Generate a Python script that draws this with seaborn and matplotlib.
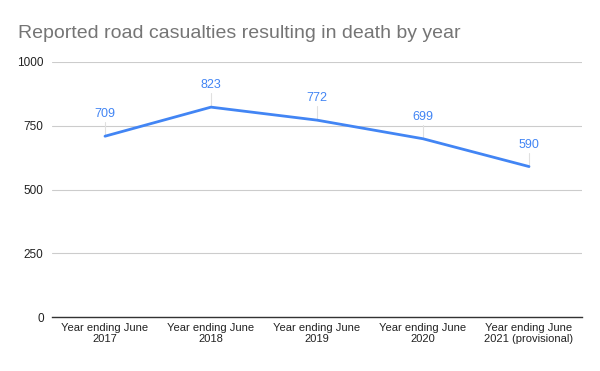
import pandas as pd
import seaborn as sns
import matplotlib.pyplot as plt

years = ["Year ending June\n2017", "Year ending June\n2018", "Year ending June\n2019",
         "Year ending June\n2020", "Year ending June\n2021 (provisional)"]
deaths = [709, 823, 772, 699, 590]
yticks = [0, 250, 500, 750, 1000]

df = pd.DataFrame({"year": years, "deaths": deaths})

sns.set_theme(style="white")
plt.rcParams["font.family"] = ["Liberation Sans", "DejaVu Sans"]

fig = plt.figure(figsize=(6, 3.71), dpi=100)
ax = fig.add_axes([52 / 600, 1 - 317 / 371, 530 / 600, 255 / 371])

sns.lineplot(data=df, x="year", y="deaths", sort=False, color="#4285F4", linewidth=2, ax=ax)

ax.set_xlim(-0.5, len(years) - 0.5)
ax.set_ylim(0, 1000)
ax.set_yticks(yticks)
ax.set_yticklabels([str(v) for v in yticks])
ax.grid(axis="y", color="#cccccc", linewidth=0.8)
ax.set_axisbelow(True)
for s in ["top", "right", "left"]:
    ax.spines[s].set_visible(False)
ax.spines["bottom"].set_color("#333333")
ax.spines["bottom"].set_linewidth(1)
ax.tick_params(axis="x", length=0, labelsize=8, colors="#222222", pad=4)
ax.tick_params(axis="y", length=0, labelsize=8.5, colors="#222222", pad=6)
ax.set_xlabel("")
ax.set_ylabel("")

# data labels with leader lines
for i, v in enumerate(deaths):
    ax.plot([i, i], [v, v + 55], color="#e0e0e0", linewidth=0.8, zorder=1)
    ax.text(i, v + 62, str(v), ha="center", va="bottom", color="#4285F4", fontsize=9)

fig.text(18 / 600, 1 - 33 / 371, "Reported road casualties resulting in death by year",
         fontsize=14, color="#757575", va="center", ha="left")

fig.savefig("out.png", dpi=100, facecolor="white")
